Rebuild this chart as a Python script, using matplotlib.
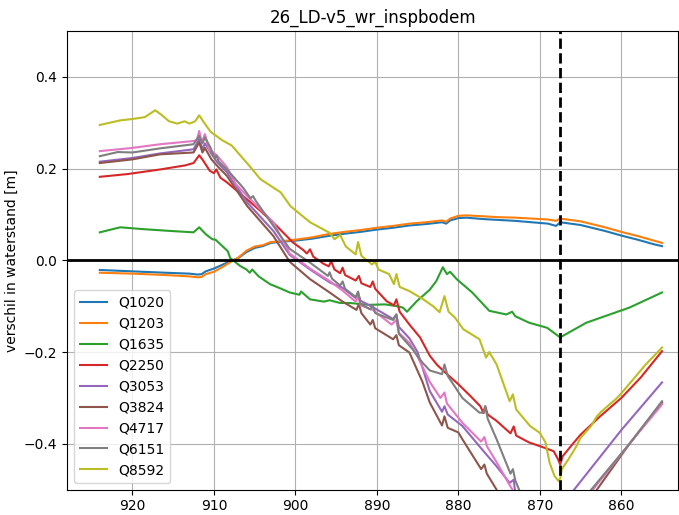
import matplotlib
matplotlib.use("Agg")
import matplotlib.pyplot as plt

# --- data (x = location, y = difference in m) ---
title = "26_LD-v5_wr_inspbodem"
x_marker = 867.5

q1020_x = [924, 920, 916, 913, 912, 911.5, 911, 910, 909, 908, 907, 906, 905, 904, 903, 902,
           900, 898, 896, 894, 892, 890, 888, 886, 884, 882, 881.5, 881, 880, 879, 877, 875,
           873, 871, 869, 868, 867.5, 865, 862, 860, 858, 856, 855]
q1020_y = [-0.021, -0.024, -0.027, -0.029, -0.031, -0.030, -0.024, -0.018, -0.010, -0.002, 0.005,
           0.018, 0.027, 0.031, 0.038, 0.040, 0.043, 0.047, 0.053, 0.058, 0.062, 0.067, 0.071,
           0.076, 0.079, 0.083, 0.080, 0.087, 0.092, 0.093, 0.090, 0.088, 0.086, 0.083, 0.080,
           0.075, 0.083, 0.077, 0.064, 0.054, 0.045, 0.035, 0.031]

q1203_x = q1020_x
q1203_y = [-0.027, -0.029, -0.032, -0.035, -0.037, -0.036, -0.030, -0.025, -0.015, -0.004, 0.006,
           0.021, 0.030, 0.033, 0.040, 0.041, 0.045, 0.050, 0.057, 0.062, 0.066, 0.071, 0.075,
           0.080, 0.083, 0.087, 0.084, 0.091, 0.097, 0.098, 0.096, 0.094, 0.093, 0.091, 0.089,
           0.086, 0.091, 0.085, 0.072, 0.062, 0.053, 0.043, 0.038]

q1635_x = [924, 921.5, 918.7, 915.3, 912.5, 911.8, 911, 910.2, 909.8, 909.2, 908.3, 908, 906.8,
           906, 905.6, 905.3, 904.5, 903.1, 902, 900.7, 899.5, 899.3, 898.2, 896.5, 895.8, 894.5,
           893.3, 891, 889, 887.5, 886.8, 886.3, 885.1, 883.5, 882.7, 881.9, 881.4, 881, 880.2,
           878.3, 876.2, 874.1, 873.4, 873, 871.3, 869.1, 867.5, 864.3, 859, 855]
q1635_y = [0.061, 0.072, 0.068, 0.064, 0.061, 0.072, 0.057, 0.046, 0.045, 0.035, 0.020, 0.005,
           -0.012, -0.020, -0.027, -0.020, -0.035, -0.052, -0.060, -0.070, -0.075, -0.068, -0.085,
           -0.090, -0.087, -0.093, -0.093, -0.097, -0.096, -0.100, -0.103, -0.112, -0.089, -0.064,
           -0.045, -0.015, -0.030, -0.025, -0.041, -0.070, -0.110, -0.118, -0.112, -0.122, -0.136,
           -0.147, -0.168, -0.136, -0.103, -0.070]

q2250_x = [924, 920.6, 916.6, 913.5, 912.5, 911.8, 911.3, 910.5, 910, 909.7, 909.2, 908.4, 906.4,
           904.3, 902.3, 900.3, 899, 898.6, 898.2, 897.8, 896.5, 895.9, 895.6, 895.2, 894.5, 894.2,
           893.9, 892.6, 892.2, 891.9, 890.8, 890.5, 890.2, 888.8, 887.9, 887.6, 887.2, 886, 884.7,
           883.5, 882.6, 881.7, 880, 878.5, 877.3, 876.9, 876.7, 876.4, 875.3, 873.6, 873.2, 872.9,
           871.3, 869.5, 868.3, 867.8, 867.5, 867.2, 866, 865, 862.6, 860, 857.6, 855]
q2250_y = [0.182, 0.188, 0.198, 0.207, 0.212, 0.229, 0.217, 0.195, 0.190, 0.198, 0.180, 0.170,
           0.140, 0.108, 0.075, 0.039, 0.022, 0.015, 0.024, 0.008, -0.008, -0.013, -0.002, -0.020,
           -0.028, -0.016, -0.032, -0.044, -0.034, -0.050, -0.058, -0.046, -0.062, -0.089, -0.098,
           -0.085, -0.112, -0.140, -0.168, -0.208, -0.228, -0.243, -0.270, -0.296, -0.318, -0.333,
           -0.318, -0.336, -0.350, -0.377, -0.362, -0.382, -0.397, -0.408, -0.416, -0.432, -0.445,
           -0.427, -0.401, -0.380, -0.340, -0.300, -0.255, -0.198]

q3053_x = [924, 920, 916.6, 912.5, 911.8, 911.4, 911.1, 910.3, 909.6, 908.4, 905.9, 902.7, 900.7,
           898.2, 895.8, 894.2, 892.6, 892.3, 892, 890.5, 888, 887.6, 887.3, 886, 885, 883.5, 882,
           881.7, 881.3, 879.5, 876.9, 875.3, 873.7, 873.2, 873, 867.5, 865.8, 860, 855]
q3053_y = [0.215, 0.223, 0.233, 0.242, 0.264, 0.242, 0.255, 0.232, 0.214, 0.192, 0.126, 0.064,
           0.012, -0.020, -0.048, -0.060, -0.082, -0.072, -0.088, -0.102, -0.128, -0.118, -0.145,
           -0.170, -0.200, -0.285, -0.330, -0.318, -0.336, -0.361, -0.416, -0.449, -0.485, -0.478,
           -0.510, -0.570, -0.500, -0.370, -0.266]

q3824_x = [924, 920, 916.6, 912.5, 911.8, 911.4, 911.1, 910.3, 909.6, 908.4, 905.9, 902.7, 900.7,
           898.2, 895.8, 894.2, 892.5, 892.2, 891.9, 890.8, 890.5, 890.2, 888, 887.6, 887.3, 886,
           884.4, 883.5, 882, 881.7, 881.3, 880, 879.5, 877.2, 876.8, 876.5, 875.3, 874.5, 867.5,
           863, 859, 855]
q3824_y = [0.212, 0.220, 0.231, 0.235, 0.257, 0.235, 0.245, 0.220, 0.206, 0.184, 0.118, 0.053,
           -0.003, -0.041, -0.070, -0.090, -0.108, -0.095, -0.115, -0.140, -0.130, -0.148, -0.172,
           -0.163, -0.185, -0.201, -0.265, -0.310, -0.360, -0.340, -0.365, -0.375, -0.390, -0.455,
           -0.445, -0.465, -0.500, -0.530, -0.600, -0.500, -0.400, -0.310]

q4717_x = [924, 920, 916.6, 912.5, 912.1, 911.8, 911.5, 911.1, 910.6, 909.6, 908.4, 907.3, 905.9,
           904.3, 902.7, 900.7, 898.2, 895.8, 894.2, 892.6, 892.3, 892, 890.5, 888.2, 887.6, 887.3,
           886, 885, 883.5, 882.2, 881.7, 881.4, 879.5, 877.2, 876.8, 876.5, 875.3, 873.7, 873,
           867.5, 863.5, 859, 855]
q4717_y = [0.238, 0.245, 0.253, 0.260, 0.262, 0.282, 0.257, 0.275, 0.242, 0.228, 0.203, 0.166,
           0.140, 0.111, 0.083, 0.015, -0.018, -0.045, -0.066, -0.090, -0.078, -0.098, -0.108,
           -0.140, -0.130, -0.158, -0.180, -0.210, -0.265, -0.300, -0.288, -0.312, -0.354, -0.395,
           -0.385, -0.405, -0.440, -0.490, -0.510, -0.580, -0.500, -0.400, -0.314]

q6151_x = [924, 921.8, 920, 916.6, 912.5, 911.8, 911.4, 911.1, 910.4, 909.9, 909.7, 909.4, 908.4,
           906.4, 905.5, 905.2, 904.8, 902.7, 900.7, 898.2, 896, 895.8, 895.5, 894.5, 894.2, 893.9,
           892.6, 892.3, 892, 890.8, 890.5, 890.2, 888, 887.6, 887.3, 885.6, 884.4, 883.5, 882,
           881.7, 881.3, 879.5, 877.4, 876.9, 876.7, 876.4, 875.3, 873.6, 873.3, 873, 872.3, 867.5,
           863.7, 859, 855]
q6151_y = [0.227, 0.236, 0.235, 0.244, 0.253, 0.271, 0.255, 0.268, 0.245, 0.222, 0.229, 0.215,
           0.198, 0.158, 0.135, 0.140, 0.128, 0.075, 0.025, -0.005, -0.034, -0.026, -0.040, -0.055,
           -0.046, -0.062, -0.080, -0.068, -0.095, -0.107, -0.098, -0.115, -0.130, -0.118, -0.160,
           -0.194, -0.223, -0.240, -0.248, -0.227, -0.252, -0.300, -0.332, -0.332, -0.318, -0.345,
           -0.390, -0.465, -0.455, -0.480, -0.510, -0.600, -0.500, -0.400, -0.307]

q8592_x = [924, 921.5, 920, 918.5, 917.2, 916.5, 915.5, 914.5, 913.6, 913, 912.3, 911.8, 911.2,
           910.4, 909, 907.8, 905.6, 904.3, 901.8, 900.6, 898.2, 895.8, 895.2, 894.5, 893.8, 892.6,
           892.3, 891.9, 890.6, 890.2, 889.8, 888.5, 887.9, 887.6, 887.2, 886, 884.3, 883.1, 882.3,
           881.7, 881.2, 880.4, 879.4, 877.4, 876.6, 876.2, 875.3, 873.7, 873.3, 872.9, 871.2, 870,
           869.3, 868.8, 868.2, 867.7, 867.5, 867.3, 866.5, 865.6, 865, 863.7, 863, 862.4, 861.7,
           860.7, 860, 857, 855]
q8592_y = [0.295, 0.305, 0.308, 0.312, 0.327, 0.318, 0.303, 0.298, 0.303, 0.298, 0.303, 0.316,
           0.300, 0.280, 0.262, 0.250, 0.205, 0.177, 0.148, 0.118, 0.083, 0.060, 0.046, 0.055, 0.030,
           0.013, 0.040, 0.010, -0.009, -0.003, -0.020, -0.030, -0.052, -0.030, -0.058, -0.067,
           -0.085, -0.100, -0.113, -0.078, -0.112, -0.125, -0.150, -0.172, -0.212, -0.200, -0.227,
           -0.307, -0.292, -0.325, -0.361, -0.376, -0.397, -0.441, -0.470, -0.481, -0.475, -0.455,
           -0.434, -0.408, -0.387, -0.361, -0.340, -0.329, -0.318, -0.303, -0.290, -0.227, -0.190]

series = [
    ("Q1020", q1020_x, q1020_y),
    ("Q1203", q1203_x, q1203_y),
    ("Q1635", q1635_x, q1635_y),
    ("Q2250", q2250_x, q2250_y),
    ("Q3053", q3053_x, q3053_y),
    ("Q3824", q3824_x, q3824_y),
    ("Q4717", q4717_x, q4717_y),
    ("Q6151", q6151_x, q6151_y),
    ("Q8592", q8592_x, q8592_y),
]

# --- plot ---
fig, ax = plt.subplots(figsize=(6.79, 5.15), dpi=100)
fig.subplots_adjust(left=0.099, right=0.999, top=0.94, bottom=0.049)

for name, xs, ys in series:
    ax.plot(xs, ys, label=name, linewidth=1.5)

ax.axhline(0, color="black", linewidth=2)
ax.axvline(x_marker, color="black", linestyle="--", linewidth=2)

ax.set_xlim(928, 853)
ax.set_ylim(-0.5, 0.5)
ax.set_title(title)
ax.set_ylabel("verschil in waterstand [m]")
ax.grid(True)
ax.legend(loc="lower left")

fig.savefig("out.png", dpi=100)
